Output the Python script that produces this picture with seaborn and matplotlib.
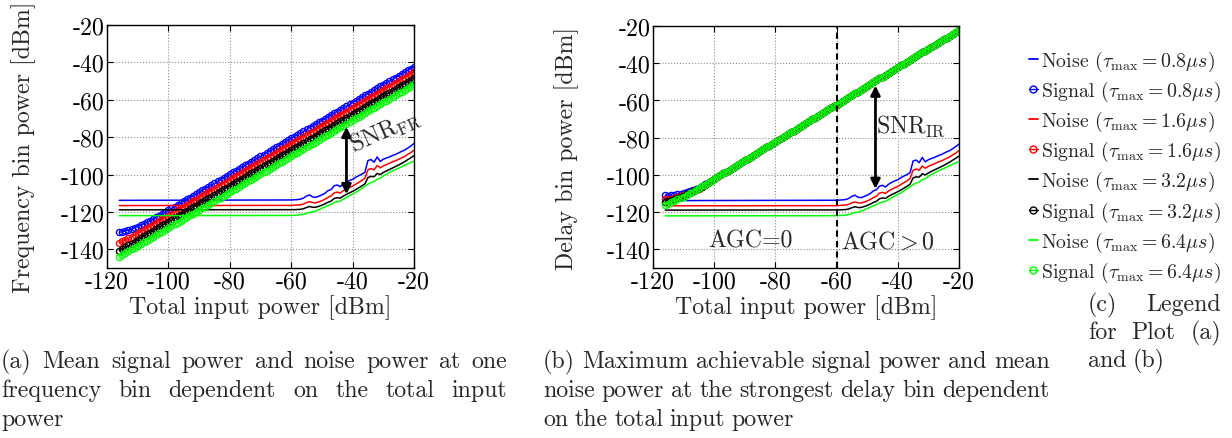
# Signal and noise power per frequency / delay bin vs total input power
import numpy as np
import pandas as pd
import seaborn as sns
import matplotlib
matplotlib.use("Agg")
import matplotlib.pyplot as plt
from matplotlib.lines import Line2D

# sweep of total input power [dBm], 1 dB steps
x_sig = np.arange(-116, -19)
# noise is flat up to about -60 dBm, so only the start point is needed there
x_noise = [-116] + list(range(-60, -19))

taus = ["0.8", "1.6", "3.2", "6.4"]
colors = ["#0000ff", "#ff0000", "#000000", "#00ff00"]

# mean noise power (same curves in both plots)
noise_blue = [-113.8, -113.6, -113.5, -113.4, -113.2, -112.6, -111.5, -110.9, -112.0, -112.2,
              -111.6, -110.9, -110.0, -108.6, -108.0, -106.0, -105.6, -106.5, -105.0, -104.0,
              -103.2, -102.6, -101.5, -100.6, -99.8, -98.8, -92.5, -92.0, -93.4, -90.6,
              -93.0, -91.8, -91.2, -90.6, -89.8, -89.2, -88.4, -87.6, -86.9, -85.8,
              -84.7, -83.4]
noise_red = [-116.6, -116.5, -116.4, -116.3, -116.2, -115.8, -115.0, -114.5, -115.0, -115.1,
             -114.6, -114.0, -113.2, -112.2, -111.5, -109.8, -109.4, -109.9, -108.6, -107.7,
             -106.9, -106.2, -105.2, -104.2, -103.2, -102.0, -97.5, -96.8, -97.5, -95.2,
             -96.4, -95.4, -94.7, -94.0, -93.2, -92.6, -91.9, -91.1, -90.3, -89.2,
             -88.2, -87.0]
noise_black = [-118.9, -118.8, -118.8, -118.7, -118.6, -118.3, -117.6, -117.1, -117.5, -117.5,
               -117.0, -116.4, -115.7, -114.8, -114.2, -112.8, -112.4, -112.6, -111.5, -110.6,
               -109.8, -109.0, -108.1, -107.1, -106.1, -105.0, -101.6, -101.0, -101.2, -99.4,
               -100.0, -98.9, -98.1, -97.3, -96.5, -95.7, -94.9, -94.0, -93.1, -92.0,
               -91.0, -89.9]
noise_green = [-122.0, -121.9, -121.8, -121.7, -121.5, -121.3, -120.8, -120.2, -120.0, -119.5,
               -118.8, -118.0, -117.4, -116.6, -116.0, -115.0, -114.6, -114.2, -113.2, -112.3,
               -111.3, -110.5, -109.6, -108.6, -107.5, -106.4, -105.2, -104.4, -103.8, -102.5,
               -102.0, -100.8, -99.8, -99.0, -98.0, -97.3, -96.6, -95.8, -95.0, -94.2,
               -93.5, -92.8]

# (a) mean signal power at one frequency bin
sig_a_blue = [-131.0, -130.6, -130.2, -129.7, -129.1, -128.5, -127.8, -127.1, -126.4, -125.6, -124.9,
              -123.9, -122.9, -122.0, -121.0, -120.1, -119.1, -118.1, -117.2, -116.2, -115.3,
              -114.3, -113.3, -112.4, -111.4, -110.5, -109.5, -108.5, -107.6, -106.6, -105.7,
              -104.7, -103.7, -102.8, -101.8, -100.9, -99.9, -98.9, -98.0, -97.0, -96.1,
              -95.1, -94.1, -93.2, -92.2, -91.3, -90.3, -89.3, -88.4, -87.4, -86.5,
              -85.5, -84.5, -83.6, -82.6, -81.7, -80.7, -79.7, -78.8, -77.8, -76.9,
              -75.9, -74.9, -74.0, -73.0, -72.1, -71.1, -70.1, -69.2, -68.2, -67.3,
              -66.3, -65.3, -64.4, -63.4, -62.5, -61.5, -60.5, -59.6, -58.6, -57.7,
              -56.7, -55.7, -54.8, -53.8, -52.9, -51.9, -50.9, -50.0, -49.0, -48.1,
              -47.1, -46.1, -45.2, -44.2, -43.3, -42.3]
sig_a_red = [-136.6, -135.8, -135.0, -134.2, -133.3, -132.4, -131.5, -130.6, -129.7, -128.8, -127.9,
             -126.9, -125.9, -125.0, -124.0, -123.1, -122.1, -121.1, -120.2, -119.2, -118.3,
             -117.3, -116.3, -115.4, -114.4, -113.5, -112.5, -111.5, -110.6, -109.6, -108.7,
             -107.7, -106.7, -105.8, -104.8, -103.9, -102.9, -101.9, -101.0, -100.0, -99.1,
             -98.1, -97.1, -96.2, -95.2, -94.3, -93.3, -92.3, -91.4, -90.4, -89.5,
             -88.5, -87.5, -86.6, -85.6, -84.7, -83.7, -82.7, -81.8, -80.8, -79.9,
             -78.9, -77.9, -77.0, -76.0, -75.1, -74.1, -73.1, -72.2, -71.2, -70.3,
             -69.3, -68.3, -67.4, -66.4, -65.5, -64.5, -63.5, -62.6, -61.6, -60.7,
             -59.7, -58.7, -57.8, -56.8, -55.9, -54.9, -53.9, -53.0, -52.0, -51.1,
             -50.1, -49.1, -48.2, -47.2, -46.3, -45.3]
sig_a_black = [-140.7, -139.8, -138.9, -137.9, -137.0, -136.0, -135.0, -134.0, -133.0, -132.0, -131.1,
               -130.1, -129.1, -128.2, -127.2, -126.3, -125.3, -124.3, -123.4, -122.4, -121.5,
               -120.5, -119.5, -118.6, -117.6, -116.7, -115.7, -114.7, -113.8, -112.8, -111.9,
               -110.9, -109.9, -109.0, -108.0, -107.1, -106.1, -105.1, -104.2, -103.2, -102.3,
               -101.3, -100.3, -99.4, -98.4, -97.5, -96.5, -95.5, -94.6, -93.6, -92.7,
               -91.7, -90.7, -89.8, -88.8, -87.9, -86.9, -85.9, -85.0, -84.0, -83.1,
               -82.1, -81.1, -80.2, -79.2, -78.3, -77.3, -76.3, -75.4, -74.4, -73.5,
               -72.5, -71.5, -70.6, -69.6, -68.7, -67.7, -66.7, -65.8, -64.8, -63.9,
               -62.9, -61.9, -61.0, -60.0, -59.1, -58.1, -57.1, -56.2, -55.2, -54.3,
               -53.3, -52.3, -51.4, -50.4, -49.5, -48.5]
sig_a_green = [-144.0, -143.0, -142.0, -141.1, -140.1, -139.2, -138.2, -137.2, -136.3, -135.3, -134.4,
               -133.4, -132.4, -131.5, -130.5, -129.6, -128.6, -127.6, -126.7, -125.7, -124.8,
               -123.8, -122.8, -121.9, -120.9, -120.0, -119.0, -118.0, -117.1, -116.1, -115.2,
               -114.2, -113.2, -112.3, -111.3, -110.4, -109.4, -108.4, -107.5, -106.5, -105.6,
               -104.6, -103.6, -102.7, -101.7, -100.8, -99.8, -98.8, -97.9, -96.9, -96.0,
               -95.0, -94.0, -93.1, -92.1, -91.2, -90.2, -89.2, -88.3, -87.3, -86.4,
               -85.4, -84.4, -83.5, -82.5, -81.6, -80.6, -79.6, -78.7, -77.7, -76.8,
               -75.8, -74.8, -73.9, -72.9, -72.0, -71.0, -70.0, -69.1, -68.1, -67.2,
               -66.2, -65.2, -64.3, -63.3, -62.4, -61.4, -60.4, -59.5, -58.5, -57.6,
               -56.6, -55.6, -54.7, -53.7, -52.8, -51.8]

# (b) max signal power at the strongest delay bin: heads (-116..-100) differ, rest is shared
head_b_blue = [-110.9, -111.1, -111.0, -110.8, -110.5, -110.1, -109.7, -109.2, -108.7,
               -108.1, -107.5, -106.8, -106.0, -105.1, -104.2, -103.2, -102.2]
head_b_red = [-113.2, -113.0, -112.7, -112.3, -111.8, -111.3, -110.7, -110.1, -109.5,
              -108.8, -108.1, -107.3, -106.4, -105.4, -104.4, -103.3, -102.2]
head_b_black = [-114.6, -114.1, -113.6, -113.0, -112.4, -111.8, -111.1, -110.5, -109.7,
                -108.9, -108.1, -107.2, -106.3, -105.3, -104.3, -103.3, -102.2]
head_b_green = [-116.0, -115.4, -114.7, -114.0, -113.2, -112.4, -111.6, -110.8, -109.9,
                -109.0, -108.1, -107.2, -106.2, -105.2, -104.2, -103.2, -102.2]
sig_b_tail = [-101.2, -100.2, -99.2, -98.2, -97.2, -96.2, -95.2, -94.2, -93.2, -92.2,
              -91.2, -90.2, -89.2, -88.2, -87.2, -86.2, -85.2, -84.2, -83.2, -82.2,
              -81.2, -80.2, -79.2, -78.2, -77.2, -76.2, -75.2, -74.2, -73.2, -72.2,
              -71.2, -70.2, -69.2, -68.2, -67.2, -66.2, -65.2, -64.2, -63.2, -62.2,
              -61.2, -60.2, -59.2, -58.2, -57.2, -56.2, -55.2, -54.2, -53.2, -52.2,
              -51.2, -50.2, -49.2, -48.2, -47.2, -46.2, -45.2, -44.2, -43.2, -42.2,
              -41.2, -40.2, -39.2, -38.2, -37.2, -36.2, -35.2, -34.2, -33.2, -32.2,
              -31.2, -30.2, -29.2, -28.2, -27.2, -26.2, -25.2, -24.2, -23.3, -22.3]

xticks = [-120, -100, -80, -60, -40, -20]
xtick_labels = ["-120", "-100", "-80", "-60", "-40", "-20"]
yticks = [-140, -120, -100, -80, -60, -40, -20]
ytick_labels = ["-140", "-120", "-100", "-80", "-60", "-40", "-20"]

noise_all = [noise_blue, noise_red, noise_black, noise_green]
sig_a_all = [sig_a_blue, sig_a_red, sig_a_black, sig_a_green]
sig_b_all = [head_b_blue + sig_b_tail, head_b_red + sig_b_tail,
             head_b_black + sig_b_tail, head_b_green + sig_b_tail]

sns.set_style("ticks")
plt.rcParams["font.family"] = ["cmr10", "DejaVu Serif"]
plt.rcParams["mathtext.fontset"] = "cm"
plt.rcParams["axes.formatter.use_mathtext"] = True

W, H = 1232, 439
FS = 17.2
fig = plt.figure(figsize=(W / 100, H / 100), dpi=100)
ax_a = fig.add_axes([107 / W, 1 - 269 / H, 307 / W, 243 / H])
ax_b = fig.add_axes([653 / W, 1 - 269 / H, 306 / W, 242 / H])


def draw_panel(ax, sigs, ylabel, ylab_x):
    for col, noise, sig in zip(colors, noise_all, sigs):
        sns.lineplot(x=x_noise, y=noise, color=col, lw=1.1, ax=ax,
                     estimator=None, sort=False, legend=False)
        sns.lineplot(x=x_sig, y=sig, color=col, lw=0.9, marker="o", markersize=4.4,
                     markerfacecolor="none", markeredgecolor=col, markeredgewidth=1.0,
                     ax=ax, estimator=None, sort=False, legend=False)
    ax.set_xlim(-120, -20)
    ax.set_ylim(-150, -20)
    ax.set_xticks(xticks, xtick_labels)
    ax.set_yticks(yticks, ytick_labels)
    ax.grid(True, ls=":", color="0.55", lw=0.8)
    ax.tick_params(direction="in", top=True, right=True, length=4, width=0.8,
                   labelsize=FS, pad=2, colors="k")
    for s in ax.spines.values():
        s.set_color("k")
        s.set_linewidth(1.0)
    ax.set_xlabel("Total input power [dBm]", fontsize=FS)
    ax.set_ylabel(ylabel, fontsize=FS)
    ax.xaxis.set_label_coords(0.5, -0.108)
    ax.yaxis.set_label_coords(ylab_x, 0.5)


draw_panel(ax_a, sig_a_all, "Frequency bin power [dBm]", -0.232)
draw_panel(ax_b, sig_b_all, "Delay bin power [dBm]", -0.242)

arrow = dict(arrowstyle="<|-|>", color="k", lw=2, mutation_scale=14, shrinkA=0, shrinkB=0)
ax_a.annotate("", xy=(-42, -74.5), xytext=(-42, -110.5), arrowprops=arrow)
ax_a.text(-29.5, -76.5, r"SNR$_{\rm FR}$", rotation=24, ha="center", va="center", fontsize=FS)

ax_b.axvline(-60, color="k", ls=(0, (3, 2)), lw=1.5)
ax_b.annotate("", xy=(-47.3, -52), xytext=(-47.3, -107.5), arrowprops=arrow)
ax_b.text(-35.8, -73.5, r"SNR$_{\rm IR}$", ha="center", va="center", fontsize=FS)
ax_b.text(-88.2, -135.3, "AGC=0", ha="center", va="center", fontsize=FS)
ax_b.text(-43.4, -135.3, r"AGC$>$0", ha="center", va="center", fontsize=FS)

# legend (c)
handles, labels = [], []
for tau, col in zip(taus, colors):
    handles.append(Line2D([], [], color=col, lw=1.3))
    labels.append(r"Noise ($\tau_{\rm max} = %s\mu s$)" % tau)
    handles.append(Line2D([], [], color=col, lw=1.0, marker="o", markersize=5,
                          markerfacecolor="none", markeredgewidth=1.0))
    labels.append(r"Signal ($\tau_{\rm max} = %s\mu s$)" % tau)
fig.legend(handles, labels, loc="upper left", bbox_to_anchor=(1029 / W, 1 - 50 / H),
           frameon=False, fontsize=14.3, handlelength=0.45, handletextpad=0.15,
           labelspacing=0.3, borderpad=0, borderaxespad=0)

# sub-captions, justified like the LaTeX text
renderer = fig.canvas.get_renderer()


def caption_line(text, x0, x1, y, justify=True):
    words = text.split()
    objs = [fig.text(0, 1 - y / H, w, fontsize=FS, va="center") for w in words]
    widths = [o.get_window_extent(renderer).width for o in objs]
    gap = (x1 - x0 - sum(widths)) / (len(words) - 1) if justify and len(words) > 1 else 6.5
    x = x0
    for o, w in zip(objs, widths):
        o.set_x(x / W)
        x += w + gap


caption_line("(a) Mean signal power and noise power at one", 1, 507, 362)
caption_line("frequency bin dependent on the total input", 1, 507, 391)
caption_line("power", 1, 507, 420, justify=False)
caption_line("(b) Maximum achievable signal power and mean", 543, 1050, 362)
caption_line("noise power at the strongest delay bin dependent", 543, 1050, 391)
caption_line("on the total input power", 543, 1050, 420, justify=False)
caption_line("(c) Legend", 1088, 1221, 305)
caption_line("for Plot (a)", 1088, 1221, 333)
caption_line("and (b)", 1088, 1221, 361, justify=False)

fig.savefig("out.png", dpi=100)
